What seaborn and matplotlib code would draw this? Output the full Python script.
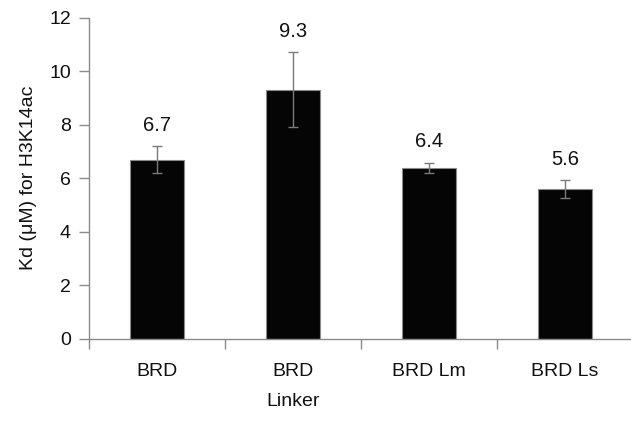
import matplotlib
matplotlib.use("Agg")
import matplotlib.pyplot as plt
import seaborn as sns
import pandas as pd

categories = ["BRD", "BRD\nLinker", "BRD Lm", "BRD Ls"]
kd_values = [6.7, 9.3, 6.4, 5.6]
kd_errors = [0.49, 1.4, 0.19, 0.35]
y_ticks = [0, 2, 4, 6, 8, 10, 12]

sns.set_theme(style="white")
plt.rcParams["font.family"] = ["Liberation Sans", "DejaVu Sans"]

df = pd.DataFrame({"construct": categories, "kd": kd_values})

fig = plt.figure(figsize=(6.31, 4.21), dpi=100)
ax = fig.add_axes([0.141, 0.195, 0.862, 0.763])

sns.barplot(data=df, x="construct", y="kd", color="#050505", width=0.4,
            edgecolor="#8a8a8a", linewidth=0.8, saturation=1, ax=ax)
ax.errorbar(range(len(kd_values)), kd_values, yerr=kd_errors, fmt="none",
            ecolor="#7a7a7a", elinewidth=1.0, capsize=3.8, capthick=1.0)

for i, (v, e) in enumerate(zip(kd_values, kd_errors)):
    ax.annotate(f"{v:.1f}", xy=(i, v + e), xytext=(0, 8), textcoords="offset points",
                ha="center", va="bottom", fontsize=14.5, color="#111111")

ax.set_ylim(0, 12)
ax.set_xlim(-0.5, len(categories) - 0.5)
ax.set_yticks(y_ticks)
ax.set_yticklabels([str(t) for t in y_ticks], fontsize=14, color="#111111")
ax.set_xticks([i - 0.5 for i in range(len(categories) + 1)], minor=False)
ax.set_xticklabels([])
ax.set_xticks(range(len(categories)), minor=True)
ax.set_xticklabels(categories, minor=True, fontsize=14, color="#111111", va="top")
for lbl in ax.get_xticklabels(minor=True):
    lbl.set_linespacing(2.05)
ax.tick_params(axis="x", which="major", direction="out", length=7, width=1, color="#8a8a8a", bottom=True)
ax.tick_params(axis="x", which="minor", length=0, pad=17)
ax.tick_params(axis="y", direction="out", length=7, width=1, color="#8a8a8a", left=True, pad=6)
ax.set_xlabel("")
ax.set_ylabel("Kd (μM) for H3K14ac", fontsize=14, color="#111111", labelpad=9)

for side in ["top", "right"]:
    ax.spines[side].set_visible(False)
for side in ["left", "bottom"]:
    ax.spines[side].set_color("#8a8a8a")
    ax.spines[side].set_linewidth(1.0)

fig.savefig("out.png", dpi=100)
